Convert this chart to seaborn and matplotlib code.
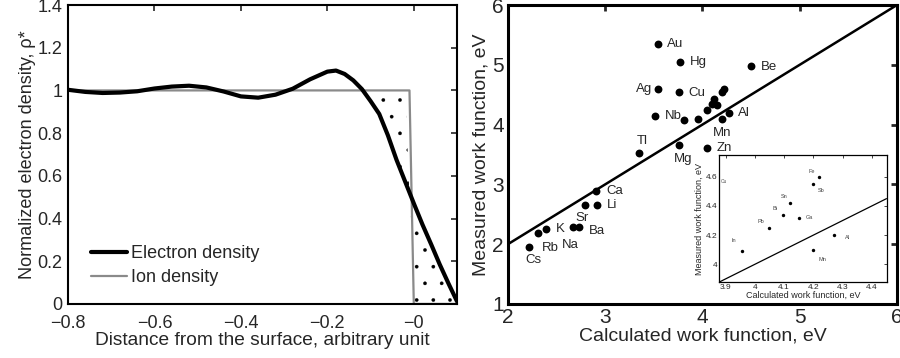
import numpy as np
import pandas as pd
import matplotlib
matplotlib.use("Agg")
import matplotlib.pyplot as plt
import seaborn as sns
from matplotlib.ticker import FuncFormatter

sns.set_style("white")
plt.rcParams['font.family'] = ['Liberation Sans', 'DejaVu Sans']
plt.rcParams['hatch.color'] = 'black'
plt.rcParams['hatch.linewidth'] = 0.2
plt.rcParams['axes.unicode_minus'] = True

# ---------------- data: left panel ----------------
dist_e = [-0.80, -0.76, -0.72, -0.68, -0.64, -0.60, -0.56, -0.52, -0.48, -0.44,
          -0.40, -0.36, -0.32, -0.28, -0.24, -0.20, -0.18, -0.16, -0.14, -0.12,
          -0.10, -0.08, -0.06, -0.04, -0.02, 0.00, 0.02, 0.04, 0.06, 0.08, 0.10]
rho_e = [1.003, 0.993, 0.988, 0.990, 0.996, 1.009, 1.018, 1.022, 1.014, 0.995,
         0.972, 0.966, 0.980, 1.008, 1.052, 1.088, 1.093, 1.077, 1.047, 1.006,
         0.950, 0.890, 0.790, 0.675, 0.573, 0.471, 0.372, 0.280, 0.185, 0.097, 0.012]
dist_ion = [-0.80, -0.01, 0.00, 0.10]
rho_ion = [1.0, 1.0, 0.0, 0.0]
legend_labels = ["Electron density", "Ion density"]

# ---------------- data: right panel ----------------
elements = ["Au", "Hg", "Be", "Ag", "Cu", "Al", "Mn", "Nb", "X", "In",
            "Tl", "Mg", "Zn", "Ca", "Li", "Sr", "Ba", "Na", "K", "Rb", "Cs",
            "Fe", "Sb", "Sn", "Bi", "Ga", "Pb"]
calc_wf = [3.54, 3.77, 4.50, 3.54, 3.76, 4.27, 4.20, 3.51, 3.81, 3.955,
           3.35, 3.76, 4.05, 2.91, 2.92, 2.79, 2.73, 2.67, 2.39, 2.31, 2.22,
           4.22, 4.20, 4.12, 4.095, 4.15, 4.05]
meas_wf = [5.35, 5.05, 4.98, 4.60, 4.55, 4.20, 4.10, 4.15, 4.08, 4.09,
           3.53, 3.66, 3.60, 2.89, 2.66, 2.65, 2.29, 2.28, 2.25, 2.18, 1.95,
           4.60, 4.55, 4.42, 4.34, 4.32, 4.25]

# label placement (offset in points, ha, va) -- styling only
main_label_pos = {
    "Au": (7, 0, "left", "center"), "Hg": (7, 0, "left", "center"),
    "Be": (7, -1, "left", "center"), "Ag": (-4, 0, "right", "center"),
    "Cu": (7, -1, "left", "center"), "Al": (7, 0, "left", "center"),
    "Mn": (0, -6, "center", "top"), "Nb": (7, 0, "left", "center"),
    "Tl": (2, 4, "center", "bottom"), "Mg": (3, -6, "center", "top"),
    "Zn": (7, 0, "left", "center"), "Ca": (7, 0, "left", "center"),
    "Li": (7, 0, "left", "center"), "Sr": (-2, -5, "center", "top"),
    "Ba": (7, -3, "left", "center"), "Na": (-2, -8, "center", "top"),
    "K": (7, 0, "left", "center"), "Rb": (3, -6, "left", "top"),
    "Cs": (3, -5, "center", "top"),
}
inset_label_pos = {
    "Fe": (-3, 2, "right", "bottom"), "Sb": (3, -3, "left", "top"),
    "Sn": (-2, 3, "right", "bottom"), "Bi": (-4, 3, "right", "bottom"),
    "Ga": (5, 0, "left", "center"), "Pb": (-4, 3, "right", "bottom"),
    "In": (-4, 6, "right", "bottom"), "Al": (8, -2, "left", "center"),
    "Mn": (4, -5, "left", "top"),
}

df_e = pd.DataFrame({"x": dist_e, "y": rho_e})
df_i = pd.DataFrame({"x": dist_ion, "y": rho_ion})
df_w = pd.DataFrame({"el": elements, "calc": calc_wf, "meas": meas_wf})

fig = plt.figure(figsize=(9.0, 3.58), dpi=100)

# ================= left panel =================
ax1 = fig.add_axes([0.0756, 0.151, 0.4322, 0.835])
sns.lineplot(data=df_i, x="x", y="y", ax=ax1, color="#8a8a8a", lw=1.6,
             sort=False, estimator=None, label=legend_labels[1], zorder=2)
sns.lineplot(data=df_e, x="x", y="y", ax=ax1, color="black", lw=3.0,
             sort=False, estimator=None, label=legend_labels[0], zorder=3)
xe = np.array(dist_e)
ye = np.array(rho_e)
ion_at_e = np.interp(xe, dist_ion, rho_ion)
ax1.fill_between(xe, ye, ion_at_e, where=xe >= -0.12, facecolor="none",
                 edgecolor="black", linewidth=0, hatch=".", zorder=1)
ax1.set_xlim(-0.8, 0.1)
ax1.set_ylim(0, 1.4)
ax1.set_xticks(np.arange(-0.8, 0.01, 0.2))
ax1.set_yticks(np.arange(0, 1.41, 0.2))
fmt = FuncFormatter(lambda v, p: ("%g" % round(v, 2)).replace("-", "\u2212"))
ax1.xaxis.set_major_formatter(fmt)
ax1.yaxis.set_major_formatter(fmt)
ax1.set_xlabel("Distance from the surface, arbitrary unit", fontsize=13.8, labelpad=0)
ax1.set_ylabel("Normalized electron density, \u03c1*", fontsize=13, labelpad=1)
ax1.tick_params(direction="in", length=4, width=1.2, labelsize=13,
                top=True, right=True)
ax1.tick_params(axis="x", pad=8)
ax1.tick_params(axis="y", pad=4)
for s in ax1.spines.values():
    s.set_linewidth(1.5)
    s.set_color("black")
h, l = ax1.get_legend_handles_labels()
ax1.legend(h[::-1], l[::-1], loc="lower left", bbox_to_anchor=(0.04, 0.035),
           frameon=False, fontsize=13, handlelength=2.0, handletextpad=0.2,
           labelspacing=0.4, borderaxespad=0)

# ================= right panel =================
ax2 = fig.add_axes([0.5644, 0.151, 0.4322, 0.835])
sns.scatterplot(data=df_w, x="calc", y="meas", ax=ax2, color="black",
                s=32, linewidth=0, zorder=3)
ax2.plot([2, 6], [2, 6], color="black", lw=1.8, zorder=2)
for el, cx, my in zip(elements, calc_wf, meas_wf):
    if el in main_label_pos:
        dx, dy, ha, va = main_label_pos[el]
        ax2.annotate(el, (cx, my), xytext=(dx, dy), textcoords="offset points",
                     ha=ha, va=va, fontsize=9.5)
ax2.set_xlim(2, 6)
ax2.set_ylim(1, 6)
ax2.set_xticks(range(2, 7))
ax2.set_yticks(range(1, 7))
ax2.set_xlabel("Calculated work function, eV", fontsize=14, labelpad=0)
ax2.set_ylabel("Measured work function, eV", fontsize=14, labelpad=2)
ax2.tick_params(direction="in", length=4, width=2, labelsize=15,
                top=True, right=True, pad=3)
for s in ax2.spines.values():
    s.set_linewidth(2.2)
    s.set_color("black")

# ================= inset =================
ax3 = fig.add_axes([0.799, 0.2123, 0.1866, 0.3547])
sns.scatterplot(data=df_w, x="calc", y="meas", ax=ax3, color="black",
                s=6, linewidth=0, zorder=3)
ax3.plot([3.88, 4.45], [3.88, 4.45], color="black", lw=0.9, zorder=2)
for el, cx, my in zip(elements, calc_wf, meas_wf):
    if el in inset_label_pos:
        dx, dy, ha, va = inset_label_pos[el]
        ax3.annotate(el, (cx, my), xytext=(dx, dy), textcoords="offset points",
                     ha=ha, va=va, fontsize=4, color="#444444")
ax3.text(3.883, 4.565, "Cu", fontsize=3.5, color="#555555", ha="left", va="center")
ax3.set_xlim(3.878, 4.452)
ax3.set_ylim(3.879, 4.749)
ax3.set_xticks([3.9, 4.0, 4.1, 4.2, 4.3, 4.4])
ax3.set_yticks([4.0, 4.2, 4.4, 4.6])
ax3.xaxis.set_major_formatter(fmt)
ax3.yaxis.set_major_formatter(fmt)
ax3.set_xlabel("Calculated work function, eV", fontsize=6.5, labelpad=0)
ax3.set_ylabel("Measured work function, eV", fontsize=6.5, labelpad=1)
ax3.tick_params(direction="in", length=2, width=0.6, labelsize=6,
                top=True, right=True, pad=1.5)
for s in ax3.spines.values():
    s.set_linewidth(0.9)
    s.set_color("black")
ax3.set_facecolor("white")

fig.savefig("out.png", dpi=100)
